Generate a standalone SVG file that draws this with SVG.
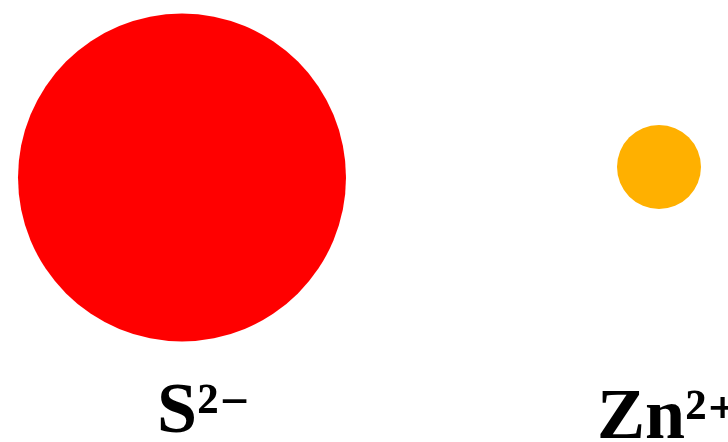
<svg xmlns="http://www.w3.org/2000/svg" width="728" height="442" viewBox="0 0 728 442">
<style>
.lbl{font-family:"Liberation Serif","DejaVu Serif",serif;font-weight:bold;font-size:72px;fill:#000}
.sup{font-size:60px}
</style>
<rect width="728" height="442" fill="#fff"/>
<g id="S">
<circle cx="182" cy="177.5" r="164" fill="#ff0000"/>
<text class="lbl" x="157" y="432">S²<tspan class="sup">⁻</tspan></text>
</g>
<g id="Zn">
<circle cx="659" cy="167" r="42" fill="#ffb000"/>
<text class="lbl" x="597" y="438">Zn²<tspan class="sup">⁺</tspan></text>
</g>
</svg>
